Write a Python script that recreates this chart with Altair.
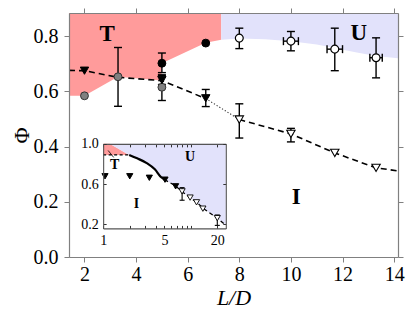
import altair as alt
import pandas as pd

FONT = "Liberation Serif"
RED = "#ff9b9b"
BLUE = "#e2e2fb"
AXC = "#808080"
W, H = 329, 244

# ---------------- main panel data ----------------
XT = [2, 4, 6, 8, 10, 12, 14]
YT = [0.0, 0.2, 0.4, 0.6, 0.8]
XDOM = [1.4, 14.15]
YDOM = [0.0, 0.884]

red_x = [1.4, 2.0, 3.3, 4.98, 5.0, 6.7, 7.3]
red_lo = [0.584, 0.584, 0.653, 0.639, 0.702, 0.776, 0.787]
blue_x = [7.3, 8.0, 9.0, 10.0, 11.0, 11.7, 12.5, 13.3, 14.15]
blue_lo = [0.787, 0.792, 0.789, 0.782, 0.770, 0.757, 0.742, 0.728, 0.720]

dash1_x = [1.4, 2.0, 3.3, 5.0, 6.7]
dash1_y = [0.676, 0.675, 0.651, 0.639, 0.574]
dot_x = [6.7, 8.0]
dot_y = [0.574, 0.498]
dash2_x = [8.0, 10.0, 11.7, 13.3, 14.15]
dash2_y = [0.498, 0.446, 0.377, 0.323, 0.312]

gray_x = [2.0, 3.3, 5.0]
gray_y = [0.584, 0.653, 0.615]
gray_lo = [None, 0.546, 0.567]
gray_hi = [None, 0.759, 0.658]

bcirc_x = [5.0, 6.7]
bcirc_y = [0.702, 0.775]
bcirc_lo = [0.668, None]
bcirc_hi = [0.739, None]

ocirc_x = [8.0, 10.0, 11.7, 13.3]
ocirc_y = [0.793, 0.782, 0.753, 0.722]
ocirc_lo = [0.755, 0.747, 0.675, 0.649]
ocirc_hi = [0.829, 0.817, 0.829, 0.794]
ocirc_xlo = [None, 9.71, 11.4, 13.06]
ocirc_xhi = [None, 10.29, 12.0, 13.54]

btri_x = [2.0, 5.0, 6.7]
btri_y = [0.675, 0.641, 0.575]
btri_lo = [None, 0.625, 0.545]
btri_hi = [None, 0.660, 0.607]

otri_x = [8.0, 10.0, 11.7, 13.3]
otri_y = [0.498, 0.446, 0.377, 0.323]
otri_lo = [0.431, 0.417, None, None]
otri_hi = [0.555, 0.466, None, None]

lab_text = ["T", "U", "I"]
lab_x = [2.88, 12.63, 10.21]
lab_y = [0.809, 0.811, 0.218]

# ---------------- inset data ----------------
IXT = [1, 2, 3, 4, 5, 6, 7, 8, 9, 10, 20]
IXL = [1, 5, 20]
IYT = [0.2, 0.6, 1.0]
IXDOM = [1, 25]
IYDOM = [0.16, 1.0]

ired_x = [1.0, 1.19, 1.98]
ired_lo = [0.89, 0.89, 0.89]
ired_hi = [1.0, 1.0, 0.89]

iblue_x = [1.0, 1.19, 1.98, 2.44, 3.14, 3.88, 4.59, 5.0, 6.7, 8.0, 10.0, 12.0, 14.0, 20.0, 25.0]
iblue_lo = [1.0, 1.0, 0.89, 0.856, 0.809, 0.747, 0.668, 0.645, 0.582, 0.522, 0.46, 0.41, 0.356, 0.262, 0.19]

ihd_x = [1.0, 1.98]
ihd_y = [0.89, 0.89]
isol_x = [1.98, 2.44, 3.14, 3.88, 4.59, 5.0]
isol_y = [0.89, 0.856, 0.809, 0.747, 0.668, 0.645]
idash_x = [5.0, 6.7, 8.0, 10.0, 12.0, 14.0, 20.0, 25.0]
idash_y = [0.645, 0.582, 0.522, 0.46, 0.41, 0.356, 0.262, 0.19]
iptr_x = [1.14, 1.32]
iptr_y = [0.934, 0.865]

itf_x = [1.05, 2.01, 3.36, 5.07, 6.7]
itf_y = [0.678, 0.678, 0.663, 0.644, 0.578]
ito_x = [7.94, 9.8, 11.6, 13.7, 20.0]
ito_y = [0.528, 0.466, 0.419, 0.356, 0.262]
ito_lo = [0.44, None, None, None, 0.19]
ito_hi = [0.565, None, None, None, 0.293]

ilab_text = ["T", "U", "I"]
ilab_x = [1.354, 9.8, 2.4]
ilab_y = [0.787, 0.872, 0.403]

# ---------------- scales ----------------
IXR = [W * 35.5 / 342, W * 163 / 342]
IYR = [H * 226 / 256, H * 137.3 / 256]


def MS_X():
    return alt.Scale(domain=XDOM, nice=False, zero=False)


def MS_Y():
    return alt.Scale(domain=YDOM, nice=False, zero=False)


def IS_X():
    return alt.Scale(type="log", domain=IXDOM, range=IXR, nice=False)


def IS_Y():
    return alt.Scale(domain=IYDOM, range=IYR, nice=False, zero=False)


def mx(f, axis=None):
    return alt.X(f, type="quantitative", scale=MS_X(), axis=axis)


def my(f, axis=None):
    return alt.Y(f, type="quantitative", scale=MS_Y(), axis=axis)


def ix(f, axis=None):
    return alt.X(f, type="quantitative", scale=IS_X(), axis=axis)


def iy(f, axis=None):
    return alt.Y(f, type="quantitative", scale=IS_Y(), axis=axis)


def area(xs, lo, hi, color, X, Y):
    df = pd.DataFrame({"x": xs, "lo": lo, "hi": hi})
    return alt.Chart(df).mark_area(color=color, opacity=1).encode(
        x=X("x"), y=Y("lo"), y2=alt.Y2("hi"))


def line(xs, ys, X, Y, dash=None, width=1.5, color="black", interp="linear"):
    df = pd.DataFrame({"x": xs, "y": ys})
    kw = dict(color=color, strokeWidth=width, interpolate=interp)
    if dash:
        kw["strokeDash"] = dash
    return alt.Chart(df).mark_line(**kw).encode(x=X("x"), y=Y("y"))


def vbars(xs, lo, hi, X, Y, cap=8, width=1.4):
    df = pd.DataFrame({"x": xs, "lo": lo, "hi": hi}).dropna()
    rule = alt.Chart(df).mark_rule(color="black", strokeWidth=width).encode(
        x=X("x"), y=Y("lo"), y2=alt.Y2("hi"))
    caps_df = pd.DataFrame({"x": list(df["x"]) * 2, "v": list(df["lo"]) + list(df["hi"])})
    caps = alt.Chart(caps_df).mark_tick(orient="horizontal", size=cap, thickness=width,
                                        color="black", opacity=1).encode(x=X("x"), y=Y("v"))
    return [rule, caps]


def hbars(ys, lo, hi, X, Y, cap=8, width=1.4):
    df = pd.DataFrame({"y": ys, "lo": lo, "hi": hi}).dropna()
    rule = alt.Chart(df).mark_rule(color="black", strokeWidth=width).encode(
        y=Y("y"), x=X("lo"), x2=alt.X2("hi"))
    caps_df = pd.DataFrame({"y": list(df["y"]) * 2, "v": list(df["lo"]) + list(df["hi"])})
    caps = alt.Chart(caps_df).mark_tick(orient="vertical", size=cap, thickness=width,
                                        color="black", opacity=1).encode(y=Y("y"), x=X("v"))
    return [rule, caps]


def points(xs, ys, X, Y, shape, fill, stroke="black", size=60, sw=1.0):
    df = pd.DataFrame({"x": xs, "y": ys})
    return alt.Chart(df).mark_point(shape=shape, filled=True, fill=fill, stroke=stroke,
                                    strokeWidth=sw, size=size, opacity=1).encode(
        x=X("x"), y=Y("y"))


def texts(ts, xs, ys, X, Y, size):
    df = pd.DataFrame({"t": ts, "x": xs, "y": ys})
    return alt.Chart(df).mark_text(font=FONT, fontWeight="bold", fontSize=size,
                                   align="center", baseline="middle", color="black").encode(
        x=X("x"), y=Y("y"), text="t:N")


layers = []
# main fills
layers.append(area(red_x, red_lo, [YDOM[1]] * len(red_x), RED, mx, my))
layers.append(area(blue_x, blue_lo, [YDOM[1]] * len(blue_x), BLUE, mx, my))
# main lines
layers.append(line(dash1_x, dash1_y, mx, my, dash=[6, 4], width=1.6))
layers.append(line(dot_x, dot_y, mx, my, dash=[1.2, 2], width=1.1, color="#333333"))
layers.append(line(dash2_x, dash2_y, mx, my, dash=[6, 4], width=1.6))
# error bars
layers += vbars(gray_x, gray_lo, gray_hi, mx, my)
layers += vbars(bcirc_x, bcirc_lo, bcirc_hi, mx, my)
layers += vbars(ocirc_x, ocirc_lo, ocirc_hi, mx, my)
layers += hbars(ocirc_y, ocirc_xlo, ocirc_xhi, mx, my)
layers += vbars(btri_x, btri_lo, btri_hi, mx, my)
layers += vbars(otri_x, otri_lo, otri_hi, mx, my)
# markers
layers.append(points(gray_x, gray_y, mx, my, "circle", "#808080", stroke="#333333", size=62))
layers.append(points(bcirc_x, bcirc_y, mx, my, "circle", "black", size=62))
layers.append(points(ocirc_x, ocirc_y, mx, my, "circle", "white", size=62, sw=1.2))
layers.append(points(btri_x, btri_y, mx, my, "triangle-down", "black", size=70))
layers.append(points(otri_x, otri_y, mx, my, "triangle-down", "white", size=70, sw=1.1))
layers.append(texts(lab_text, lab_x, lab_y, mx, my, 23))

# main axes carriers
carrier = pd.DataFrame({"x": [XT[0]], "y": [YT[0]]})
ax_base = dict(grid=False, zindex=3, tickColor=AXC, domainColor=AXC, tickWidth=1, domainWidth=1.2,
               labelFont=FONT, titleFont=FONT, labelColor="black", titleColor="black")
axA_x = alt.Axis(orient="bottom", values=XT, format="d", tickSize=5, labelFontSize=20,
                 labelPadding=2, labelFlush=False, labelOverlap=False, title="L/D",
                 titleFontSize=22, titleFontStyle="italic", titleFontWeight="normal",
                 titlePadding=3, **ax_base)
axA_y = alt.Axis(orient="left", values=YT, format=".1f", tickSize=5, labelFontSize=20,
                 labelPadding=6, labelOverlap=False, title="Φ", titleFontSize=22,
                 titleFontWeight="normal", titlePadding=0, **ax_base)
axB_x = alt.Axis(orient="top", values=XT, labels=False, tickSize=5, title=None, **ax_base)
axB_y = alt.Axis(orient="right", values=YT, labels=False, tickSize=5, title=None, **ax_base)
layers.append(alt.Chart(carrier).mark_point(opacity=0).encode(x=mx("x", axA_x), y=my("y", axA_y)))
layers.append(alt.Chart(carrier).mark_point(opacity=0).encode(x=mx("x", axB_x), y=my("y", axB_y)))

# ---------------- inset ----------------
layers.append(area(ired_x, ired_lo, ired_hi, RED, ix, iy))
layers.append(area(iblue_x, iblue_lo, [IYDOM[1]] * len(iblue_x), BLUE, ix, iy))
layers.append(line(ihd_x, ihd_y, ix, iy, dash=[3, 2.5], width=1.2))
layers.append(line(isol_x, isol_y, ix, iy, width=2.2, interp="monotone"))
layers.append(line(idash_x, idash_y, ix, iy, dash=[4, 3], width=1.3))
layers.append(line(iptr_x, iptr_y, ix, iy, width=0.8))
layers += vbars(ito_x, ito_lo, ito_hi, ix, iy, cap=5, width=1.1)
layers.append(points(itf_x, itf_y, ix, iy, "triangle-down", "black", size=38))
layers.append(points(ito_x, ito_y, ix, iy, "triangle-down", "white", size=38, sw=0.9))
layers.append(texts(ilab_text, ilab_x, ilab_y, ix, iy, 14))

IC = "#555555"
iax_base = dict(grid=False, zindex=3, tickColor="#333333", domainColor=IC, tickWidth=1,
                domainWidth=1.1, labelFont=FONT, labelColor="black", title=None, tickSize=3)
lab_expr = "indexof([1, 5, 20], datum.value) >= 0 ? format(datum.value, 'd') : ''"
axC_x = alt.Axis(orient="top", offset=-IYR[0], values=IXT, labelExpr=lab_expr,
                 labelBaseline="top", labelPadding=-8, labelFontSize=14, labelFlush=False,
                 labelOverlap=False, **iax_base)
axC_y = alt.Axis(orient="right", offset=IXR[0] - W, values=IYT, format=".1f",
                 labelAlign="right", labelBaseline="middle", labelPadding=-8, labelFontSize=14,
                 labelOverlap=False, **iax_base)
axD_x = alt.Axis(orient="bottom", offset=IYR[1] - H, values=IXT, labels=False, **iax_base)
axD_y = alt.Axis(orient="left", offset=-IXR[1], values=IYT, labels=False, **iax_base)
icar = pd.DataFrame({"x": [2.0], "y": [0.6]})
layers.append(alt.Chart(icar).mark_point(opacity=0).encode(x=ix("x", axC_x), y=iy("y", axC_y)))
layers.append(alt.Chart(icar).mark_point(opacity=0).encode(x=ix("x", axD_x), y=iy("y", axD_y)))

chart = alt.layer(*layers).resolve_scale(x="independent", y="independent").properties(
    width=W, height=H,
    autosize=alt.AutoSizeParams(type="none"),
    padding={"left": 61, "top": 5, "right": 10, "bottom": 57},
).configure_view(stroke=None).configure(font=FONT)

chart.save("out.html", embed_options={"renderer": "svg", "actions": False})
